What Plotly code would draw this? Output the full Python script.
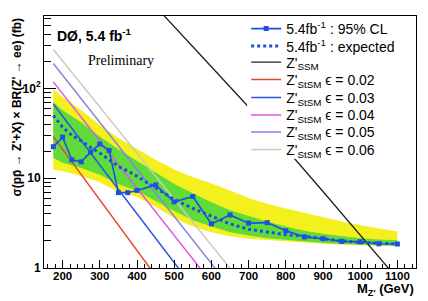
import plotly.graph_objects as go

# ---------------- data ----------------
mass = [175, 200, 225, 250, 275, 300, 325, 350, 375, 400, 450, 500, 550, 600,
        650, 700, 750, 800, 850, 900, 950, 1000, 1050, 1100]
obs_limit = [22.4, 28.6, 16.0, 15.2, 19.5, 24.0, 20.3, 6.9, 6.9, 7.3, 8.4, 5.45,
             6.25, 3.1, 3.9, 3.16, 3.2, 2.6, 2.22, 2.12, 1.98, 1.96, 1.86, 1.85]
exp_limit = [50, 37, 30, 26, 22, 19, 16, 13.5, 12, 10.5, 7.8, 5.8, 4.6, 3.8,
             3.1, 2.7, 2.5, 2.35, 2.25, 2.12, 2.0, 1.93, 1.88, 1.85]

band_mass = [175, 200, 250, 300, 350, 400, 450, 500, 550, 600, 650, 700, 750,
             800, 850, 900, 950, 1000, 1050, 1100]
yellow_hi = [98, 80, 57, 39, 28, 21, 16, 12.5, 10.3, 8.7, 7.3, 6.0, 5.2, 4.6,
             4.1, 3.7, 3.3, 3.0, 2.75, 2.55]
green_hi = [70, 57, 42, 29, 21, 15.5, 11.5, 8.6, 6.8, 5.4, 4.4, 3.8, 3.3, 2.9,
            2.6, 2.4, 2.25, 2.15, 2.08, 2.03]
green_lo = [16.8, 14.8, 13, 10.9, 8.6, 7.2, 5.6, 4.3, 3.4, 2.9, 2.5, 2.3, 2.15,
            2.05, 1.97, 1.9, 1.85, 1.82, 1.79, 1.77]
yellow_lo = [12.4, 12, 10.6, 9.0, 7.0, 6.2, 4.8, 3.6, 2.9, 2.5, 2.25, 2.12,
             2.05, 1.98, 1.92, 1.86, 1.82, 1.79, 1.76, 1.75]

ssm_mass = [450, 500, 600, 700, 800, 900, 1000, 1100]
ssm_xsec = [813, 490, 174, 62, 21.4, 7.1, 2.34, 0.76]

stsm_mass_002 = [175, 300, 450]
stsm_xsec_002 = [29, 5.8, 0.82]
stsm_mass_003 = [175, 300, 525]
stsm_xsec_003 = [67, 14, 0.84]
stsm_mass_004 = [175, 400, 575]
stsm_xsec_004 = [118, 7.8, 0.93]
stsm_mass_005 = [175, 400, 625]
stsm_xsec_005 = [189, 12.6, 0.83]
stsm_mass_006 = [175, 400, 675]
stsm_xsec_006 = [271, 19, 0.74]

x_ticks = [200, 300, 400, 500, 600, 700, 800, 900, 1000, 1100]
y_tickvals = [1, 10, 100]
y_ticktext = ["1", "10", "10<sup>2</sup>"]

legend_names = [
    "5.4fb<sup>-1</sup> : 95% CL",
    "5.4fb<sup>-1</sup> : expected",
    "Z'<sub>SSM</sub>",
    "Z'<sub>StSM</sub> ϵ = 0.02",
    "Z'<sub>StSM</sub> ϵ = 0.03",
    "Z'<sub>StSM</sub> ϵ = 0.04",
    "Z'<sub>StSM</sub> ϵ = 0.05",
    "Z'<sub>StSM</sub> ϵ = 0.06",
]

# ---------------- figure ----------------
YELLOW = "#f4f01e"
GREEN = "#5fdc3c"
BLUE = "#1f4fe0"

W, H = 428, 301
L, R, T, B = 44, 12.3, 16, 32.7
PW, PH = W - L - R, H - T - B


def px(xp):
    return (xp - L) / PW


def py(yp):
    return 1 - (yp - T) / PH


fig = go.Figure()

fig.add_trace(go.Scatter(
    x=band_mass + band_mass[::-1], y=yellow_hi + yellow_lo[::-1],
    fill="toself", fillcolor=YELLOW, line=dict(width=0), mode="lines",
    showlegend=False, hoverinfo="skip"))
fig.add_trace(go.Scatter(
    x=band_mass + band_mass[::-1], y=green_hi + green_lo[::-1],
    fill="toself", fillcolor=GREEN, line=dict(width=0), mode="lines",
    showlegend=False, hoverinfo="skip"))

theory = [
    (stsm_mass_002, stsm_xsec_002, "#e8452d"),
    (stsm_mass_003, stsm_xsec_003, "#2a55e0"),
    (stsm_mass_004, stsm_xsec_004, "#e055e0"),
    (stsm_mass_005, stsm_xsec_005, "#8585e0"),
    (stsm_mass_006, stsm_xsec_006, "#cfcbb8"),
]
for i, (mx, my, col) in enumerate(theory):
    fig.add_trace(go.Scatter(
        x=mx, y=my, mode="lines", line=dict(color=col, width=1.5),
        name=legend_names[3 + i], legend="legend%d" % (4 + i)))

fig.add_trace(go.Scatter(
    x=ssm_mass, y=ssm_xsec, mode="lines",
    line=dict(color="#222222", width=1.3),
    name=legend_names[2], legend="legend3"))
fig.add_trace(go.Scatter(
    x=mass, y=exp_limit, mode="lines",
    line=dict(color=BLUE, width=3, dash="dot"),
    name=legend_names[1], legend="legend2"))
fig.add_trace(go.Scatter(
    x=mass, y=obs_limit, mode="lines+markers",
    line=dict(color=BLUE, width=1.6),
    marker=dict(symbol="square", size=5, color=BLUE),
    name=legend_names[0], legend="legend"))

# one single-entry legend per row so the row spacing follows the picture
row_y = [29, 46.5, 62.5, 80, 98, 115.5, 132.5, 150]
legend_layout = {}
for i, yrow in enumerate(row_y):
    key = "legend" if i == 0 else "legend%d" % (i + 1)
    legend_layout[key] = dict(
        x=px(246), y=py(yrow), xanchor="left", yanchor="middle",
        bgcolor="rgba(0,0,0,0)", borderwidth=0, font=dict(size=14),
        itemwidth=30)

fig.update_layout(
    width=W, height=H,
    margin=dict(l=L, r=R, t=T, b=B),
    paper_bgcolor="white", plot_bgcolor="white",
    font=dict(family="Liberation Sans, Arial, sans-serif", color="black"),
    showlegend=True,
    **legend_layout,
)

# white legend box covering the curves behind it
fig.add_shape(type="rect", xref="paper", yref="paper",
              x0=px(247), x1=px(398), y0=py(19), y1=py(159),
              fillcolor="white", line=dict(width=0), layer="above")

fig.update_xaxes(
    range=[150, 1150], tickvals=x_ticks, ticks="inside", ticklen=8,
    tickwidth=1, tickcolor="black",
    minor=dict(dtick=20, tick0=0, ticks="inside", ticklen=4, tickcolor="black"),
    showline=True, linecolor="black", linewidth=1, mirror=True,
    showgrid=False, zeroline=False, ticklabelstandoff=-3,
    tickfont=dict(size=11.5, weight="bold"))
fig.update_yaxes(
    type="log", range=[0, 2.805], tickvals=y_tickvals, ticktext=y_ticktext,
    ticks="inside", ticklen=12, tickwidth=1, tickcolor="black",
    minor=dict(dtick="D1", ticks="inside", ticklen=7, tickcolor="black"),
    showline=True, linecolor="black", linewidth=1, mirror=True,
    showgrid=False, zeroline=False,
    tickfont=dict(size=12, weight="bold"))

fig.add_annotation(
    text="<b>DØ, 5.4 fb<sup>-1</sup></b>", xref="paper", yref="paper",
    x=px(55), y=py(35), xanchor="left", yanchor="middle",
    showarrow=False, font=dict(size=14))
fig.add_annotation(
    text="Preliminary", xref="paper", yref="paper",
    x=px(86), y=py(61), xanchor="left", yanchor="middle",
    showarrow=False, font=dict(size=14, family="Liberation Serif, Times New Roman, serif"))
fig.add_annotation(
    text="<b>σ(pp̄ → Z'+X) × BR(Z' → ee) (fb)</b>", xref="paper", yref="paper",
    x=px(17), y=py(15), xanchor="center", yanchor="top",
    textangle=-90, showarrow=False, font=dict(size=12))
fig.add_annotation(
    text="<b>M<sub>Z'</sub> (GeV)</b>", xref="paper", yref="paper",
    x=1.0, y=py(290), xanchor="right", yanchor="middle",
    showarrow=False, font=dict(size=13))

fig.write_html("out.html", config={"displayModeBar": False},
               post_script="document.body.style.margin='0px';")
